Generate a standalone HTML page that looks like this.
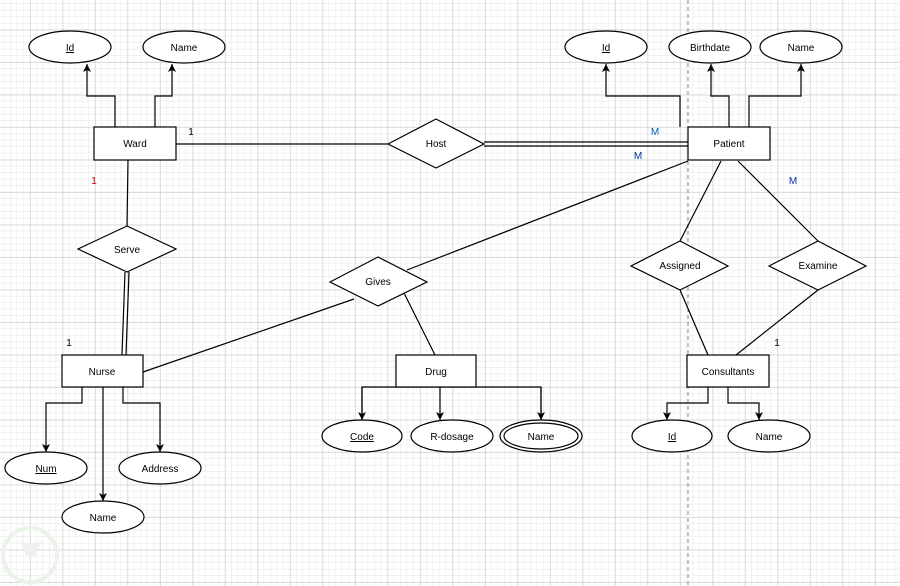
<!DOCTYPE html>
<html><head><meta charset="utf-8"><style>
html,body{margin:0;padding:0;background:#fff;}
svg{display:block;}
text{font-family:"Liberation Sans",Arial,sans-serif;font-size:10px;fill:#000;}
</style></head><body>
<svg width="900" height="586" viewBox="0 0 900 586" xmlns="http://www.w3.org/2000/svg">
<defs>
<pattern id="minor" width="6.5" height="6.5" patternUnits="userSpaceOnUse" x="30.2" y="29.8">
<path d="M6.5 0V6.5M0 6.5H6.5" stroke="#e6e6e6" stroke-width="1" fill="none"/>
</pattern>
<pattern id="major" width="32.5" height="32.5" patternUnits="userSpaceOnUse" x="30.2" y="29.8">
<path d="M0 0V32.5M0 0H32.5" stroke="#c6c6c6" stroke-width="1" fill="none"/>
</pattern>
<marker id="ar" markerWidth="10" markerHeight="10" refX="8" refY="4" orient="auto" markerUnits="userSpaceOnUse">
<path d="M0 0 L8 4 L0 8 L2 4 Z" fill="#000"/>
</marker>
</defs>
<rect width="900" height="586" fill="url(#minor)"/>
<rect width="900" height="586" fill="url(#major)"/>
<line x1="688" y1="0" x2="688" y2="586" stroke="#888" stroke-dasharray="4,3"/>
<circle cx="30" cy="555" r="27" fill="none" stroke="#eaf3e8" stroke-width="4"/>
<path d="M20 540 Q30 575 42 540 Q30 548 20 540Z" fill="#eef2ef"/>

<g stroke="#000" stroke-width="1.2" fill="none">
<polyline points="115,127 115,96 87,96 87,64" marker-end="url(#ar)"/>
<polyline points="155,127 155,96 172,96 172,64" marker-end="url(#ar)"/>
<polyline points="680,127 680,96 606,96 606,64" marker-end="url(#ar)"/>
<polyline points="729,127 729,96 711,96 711,64" marker-end="url(#ar)"/>
<polyline points="749,127 749,96 801,96 801,64" marker-end="url(#ar)"/>
<line x1="176" y1="144" x2="388" y2="144"/>
<line x1="484" y1="142" x2="688" y2="142"/>
<line x1="484" y1="146" x2="688" y2="146"/>
<line x1="128" y1="160" x2="127" y2="226"/>
<line x1="125" y1="272" x2="122" y2="355"/>
<line x1="129" y1="272" x2="126" y2="355"/>
<line x1="143" y1="372" x2="354" y2="299"/>
<line x1="407" y1="270" x2="688" y2="161"/>
<line x1="404" y1="293" x2="435" y2="355"/>
<polyline points="362,419 362,387 541,387 541,419"/>
<line x1="362" y1="387" x2="362" y2="420" marker-end="url(#ar)"/>
<line x1="440" y1="387" x2="440" y2="420" marker-end="url(#ar)"/>
<line x1="541" y1="387" x2="541" y2="420" marker-end="url(#ar)"/>
<polyline points="82,387 82,403 46,403 46,452" marker-end="url(#ar)"/>
<line x1="103" y1="387" x2="103" y2="501" marker-end="url(#ar)"/>
<polyline points="123,387 123,403 160,403 160,452" marker-end="url(#ar)"/>
<line x1="721" y1="161" x2="680" y2="241"/>
<line x1="738" y1="161" x2="818" y2="241"/>
<line x1="680" y1="290" x2="708" y2="355"/>
<line x1="818" y1="290" x2="736" y2="355"/>
<polyline points="708,387 708,403 667,403 667,420" marker-end="url(#ar)"/>
<polyline points="728,387 728,403 759,403 759,420" marker-end="url(#ar)"/>
</g>

<g stroke="#000" stroke-width="1.2" fill="#fff">
<rect x="94" y="127" width="82" height="33"/>
<rect x="688" y="127" width="82" height="33"/>
<rect x="62" y="355" width="81" height="32"/>
<rect x="396" y="355" width="80" height="32"/>
<rect x="687" y="355" width="82" height="32"/>
<polygon points="388,144 436,119 484,144 436,168"/>
<polygon points="78,249 127,226 176,249 127,272"/>
<polygon points="330,282 378,257 427,282 378,306"/>
<polygon points="631,266 680,241 728,266 680,290"/>
<polygon points="769,266 818,241 866,266 818,290"/>
<ellipse cx="70" cy="47" rx="41" ry="16"/>
<ellipse cx="184" cy="47" rx="41" ry="16"/>
<ellipse cx="606" cy="47" rx="41" ry="16"/>
<ellipse cx="710" cy="47" rx="41" ry="16"/>
<ellipse cx="801" cy="47" rx="41" ry="16"/>
<ellipse cx="46" cy="468" rx="41" ry="16"/>
<ellipse cx="160" cy="468" rx="41" ry="16"/>
<ellipse cx="103" cy="517" rx="41" ry="16"/>
<ellipse cx="362" cy="436" rx="40" ry="16"/>
<ellipse cx="452" cy="436" rx="41" ry="16"/>
<ellipse cx="541" cy="436" rx="41" ry="16"/>
<ellipse cx="541" cy="436" rx="37" ry="13"/>
<ellipse cx="672" cy="436" rx="40" ry="16"/>
<ellipse cx="769" cy="436" rx="41" ry="16"/>
</g>

<g text-anchor="middle">
<text x="70" y="51" text-decoration="underline">Id</text>
<text x="184" y="51">Name</text>
<text x="606" y="51" text-decoration="underline">Id</text>
<text x="710" y="51">Birthdate</text>
<text x="801" y="51">Name</text>
<text x="135" y="147">Ward</text>
<text x="729" y="147">Patient</text>
<text x="436" y="147">Host</text>
<text x="127" y="253">Serve</text>
<text x="378" y="285">Gives</text>
<text x="680" y="269">Assigned</text>
<text x="818" y="269">Examine</text>
<text x="102" y="375">Nurse</text>
<text x="436" y="375">Drug</text>
<text x="728" y="375">Consultants</text>
<text x="46" y="472" text-decoration="underline">Num</text>
<text x="160" y="472">Address</text>
<text x="103" y="521">Name</text>
<text x="362" y="440" text-decoration="underline">Code</text>
<text x="452" y="440">R-dosage</text>
<text x="541" y="440">Name</text>
<text x="672" y="440" text-decoration="underline">Id</text>
<text x="769" y="440">Name</text>
<text x="191" y="135">1</text>
<text x="94" y="184" style="fill:#c00">1</text>
<text x="655" y="135" style="fill:#0060c0">M</text>
<text x="638" y="159" style="fill:#0030a0">M</text>
<text x="793" y="184" style="fill:#0030a0">M</text>
<text x="69" y="346">1</text>
<text x="777" y="346">1</text>
</g>
</svg>
</body></html>
